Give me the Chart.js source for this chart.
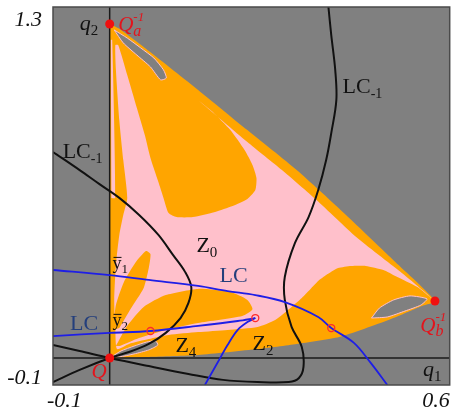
<!DOCTYPE html>
<html>
<head>
<meta charset="utf-8">
<script src="https://cdn.jsdelivr.net/npm/chart.js@4"></script>
<style>
  html, body { margin: 0; padding: 0; background: #fff; }
  #wrap { width: 455px; height: 409px; position: relative; }
</style>
</head>
<body>
<div id="wrap"><canvas id="basin"></canvas></div>
<script>
// axis ranges and tick values
const q1Range = [-0.1, 0.6];
const q2Range = [-0.1, 1.3];
const q1Ticks = [-0.1, 0.6];
const q2Ticks = [-0.1, 1.3];

// outer boundary of the basin (orange)
const basinX = [0, 0.017, 0.069, 0.156, 0.243, 0.330, 0.417, 0.504, 0.574, 0.551, 0.492, 0.405, 0.330, 0.261, 0.156, 0.069, 0];
const basinY = [1.237, 1.219, 1.137, 0.993, 0.844, 0.696, 0.530, 0.356, 0.211, 0.193, 0.141, 0.078, 0.052, 0.033, 0.011, 0.004, 0];

// Z0 zone (pink)
const pinkX = [0.156, 0.243, 0.304, 0.365, 0.435, 0.513, 0.560, 0.569,
  0.543, 0.504, 0.483, 0.452, 0.426, 0.403, 0.382, 0.368, 0.356, 0.339, 0.321, 0.292, 0.261, 0.208, 0.156, 0.104, 0.069, 0.034, 0.013,
  0.010, 0.008, 0.011, 0.017, 0.024, 0.031, 0.024, 0.017, 0.011, 0.010,
  0.015, 0.031, 0.048, 0.062, 0.072, 0.086, 0.095, 0.104,
  0.118, 0.147, 0.186, 0.217, 0.243, 0.257, 0.259, 0.252, 0.238, 0.213, 0.182];
const pinkY = [0.956, 0.800, 0.696, 0.585, 0.448, 0.319, 0.237, 0.219,
  0.263, 0.304, 0.326, 0.341, 0.341, 0.333, 0.307, 0.285, 0.259, 0.222, 0.189, 0.141, 0.115, 0.104, 0.096, 0.085, 0.070, 0.052, 0.033,
  0.104, 0.215, 0.344, 0.456, 0.530, 0.593, 0.733, 0.881, 1.067, 1.159,
  1.159, 1.048, 0.926, 0.826, 0.741, 0.652, 0.593, 0.537,
  0.522, 0.522, 0.541, 0.563, 0.589, 0.622, 0.667, 0.715, 0.770, 0.844, 0.911];
const stripX = [0.002, 0.0045, 0.010, 0.003];
const stripY = [1.178, 1.178, 0.593, 0.593];

// orange tongues inside Z0
const leafX = [0.006, 0.011, 0.025, 0.045, 0.064, 0.072, 0.069, 0.060, 0.038, 0.017];
const leafY = [0.104, 0.196, 0.281, 0.352, 0.396, 0.385, 0.333, 0.259, 0.185, 0.111];
const lobeX = [0.011, 0.031, 0.060, 0.099, 0.156, 0.213, 0.243, 0.252, 0.234, 0.156, 0.099, 0.052, 0.018];
const lobeY = [0.044, 0.119, 0.189, 0.233, 0.256, 0.244, 0.215, 0.181, 0.156, 0.130, 0.104, 0.074, 0.044];

// holes of the divergent set (grey)
const holeQX = [0.003, 0.020, 0.043, 0.065, 0.081, 0.085, 0.069, 0.043, 0.017, 0.003];
const holeQY = [0.004, 0.026, 0.044, 0.059, 0.063, 0.048, 0.030, 0.015, 0.004, 0.004];
const holeAX = [0.008, 0.031, 0.055, 0.078, 0.095, 0.100, 0.090, 0.072, 0.048, 0.024, 0.008];
const holeAY = [1.215, 1.185, 1.148, 1.111, 1.067, 1.037, 1.030, 1.078, 1.122, 1.167, 1.215];
const holeBX = [0.462, 0.476, 0.501, 0.530, 0.560, 0.549, 0.521, 0.490, 0.462];
const holeBY = [0.148, 0.185, 0.215, 0.230, 0.219, 0.196, 0.174, 0.152, 0.148];

// critical curves
const lcm1aX = [-0.100, -0.053, -0.018, 0.017, 0.052, 0.086, 0.112, 0.133, 0.144, 0.139, 0.125, 0.099, 0.069, 0.034, 0, -0.053, -0.100];
const lcm1aY = [0.763, 0.696, 0.644, 0.593, 0.530, 0.456, 0.381, 0.319, 0.263, 0.204, 0.148, 0.093, 0.052, 0.022, 0, -0.044, -0.089];
const lcm1bX = [-0.100, -0.053, 0, 0.069, 0.139, 0.200, 0.261, 0.316, 0.334, 0.342, 0.339, 0.321, 0.309, 0.309, 0.327, 0.351, 0.368, 0.382, 0.391, 0.400, 0.398, 0.391, 0.386];
const lcm1bY = [0.048, 0.026, 0, -0.030, -0.059, -0.081, -0.089, -0.089, -0.074, -0.033, 0.041, 0.115, 0.215, 0.300, 0.426, 0.522, 0.622, 0.733, 0.833, 0.956, 1.067, 1.196, 1.300];
const lcAX = [-0.100, 0, 0.069, 0.156, 0.208, 0.257, 0.309, 0.368, 0.391, 0.431, 0.461, 0.490];
const lcAY = [0.326, 0.307, 0.289, 0.267, 0.248, 0.233, 0.207, 0.152, 0.111, 0.056, -0.019, -0.100];
const lcBX = [-0.100, 0, 0.072, 0.156, 0.226, 0.257];
const lcBY = [0.081, 0.093, 0.100, 0.119, 0.137, 0.148];
const lcCX = [0.257, 0.243, 0.226, 0.208, 0.191, 0.168];
const lcCY = [0.148, 0.133, 0.104, 0.048, -0.015, -0.100];

// fixed points Q, Q_a^-1, Q_b^-1 and the contact points
const fixedX = [0, 0, 0.574];
const fixedY = [0, 1.237, 0.211];
const contactX = [0.072, 0.257, 0.391];
const contactY = [0.100, 0.148, 0.111];

const ORANGE = '#ffa500', PINK = '#ffc0cb', GREY = '#808080';
const RED = '#e3141c', NAVY = '#243f7c';

function pts(xs, ys) {
  return xs.map((x, i) => ({ x: x, y: ys[i] }));
}

function area(label, xs, ys, color, order, rim) {
  return {
    type: 'line', label: label, data: pts(xs, ys), order: order,
    backgroundColor: color, borderColor: rim || 'transparent', borderWidth: rim ? 1 : 0,
    fill: 'shape', pointRadius: 0, tension: 0.2
  };
}

function curve(label, xs, ys, color, width, order) {
  return {
    type: 'line', label: label, data: pts(xs, ys), order: order,
    borderColor: color, borderWidth: width, fill: false, pointRadius: 0, tension: 0.35
  };
}

// text labels (anchor in q1, q2 and parts drawn left to right)
const notes = [
  { at: [-0.053, 1.215], color: '#111', parts: [{ t: 'q', f: 'italic 22px' }, { t: '2', f: '15px', dy: 5 }] },
  { at: [0.015, 1.211], color: RED, parts: [{ t: 'Q', f: 'italic 21px' }, { t: '-1', f: 'italic 13px', dy: -10 }, { t: 'a', f: 'italic 16px', dy: 5, same: true }] },
  { at: [0.411, 0.981], color: '#111', parts: [{ t: 'LC', f: '22px' }, { t: '-1', f: '14px', dy: 5 }] },
  { at: [-0.083, 0.741], color: '#111', parts: [{ t: 'LC', f: '22px' }, { t: '-1', f: '14px', dy: 5 }] },
  { at: [0.153, 0.393], color: '#111', parts: [{ t: 'Z', f: '22px' }, { t: '0', f: '15px', dy: 5 }] },
  { at: [0.194, 0.281], color: NAVY, parts: [{ t: 'LC', f: '22px' }] },
  { at: [-0.070, 0.104], color: NAVY, parts: [{ t: 'LC', f: '22px' }] },
  { at: [0.005, 0.330], color: '#111', parts: [{ t: 'y', f: '18px', bar: true }, { t: '1', f: '13px', dy: 4 }] },
  { at: [0.005, 0.119], color: '#111', parts: [{ t: 'y', f: '18px', bar: true }, { t: '2', f: '13px', dy: 4 }] },
  { at: [0.116, 0.022], color: '#111', parts: [{ t: 'Z', f: '22px' }, { t: '4', f: '15px', dy: 5 }] },
  { at: [0.252, 0.030], color: '#111', parts: [{ t: 'Z', f: '22px' }, { t: '2', f: '15px', dy: 5 }] },
  { at: [0.548, 0.096], color: RED, parts: [{ t: 'Q', f: 'italic 21px' }, { t: '-1', f: 'italic 13px', dy: -11 }, { t: 'b', f: 'italic 16px', dy: 4, same: true }] },
  { at: [-0.032, -0.074], color: RED, parts: [{ t: 'Q', f: 'italic 21px' }] },
  { at: [0.553, -0.067], color: '#111', parts: [{ t: 'q', f: 'italic 22px' }, { t: '1', f: '15px', dy: 5 }] }
];

const SERIF = ' "Liberation Serif", "Times New Roman", serif';

const backdrop = {
  id: 'backdrop',
  beforeDraw(chart) {
    const { ctx, chartArea: a } = chart;
    ctx.save();
    ctx.fillStyle = '#fff';
    ctx.fillRect(0, 0, chart.width, chart.height);
    ctx.fillStyle = GREY;
    ctx.fillRect(a.left, a.top, a.right - a.left, a.bottom - a.top);
    ctx.restore();
  },
  afterDatasetsDraw(chart) {
    const { ctx, chartArea: a, scales } = chart;
    ctx.save();
    ctx.strokeStyle = '#4a4a4a';
    ctx.lineWidth = 1.5;
    ctx.strokeRect(a.left, a.top, a.right - a.left, a.bottom - a.top);

    // tick labels
    ctx.fillStyle = '#111';
    ctx.font = 'italic 22px' + SERIF;
    ctx.textAlign = 'right';
    q2Ticks.forEach(v => {
      const py = scales.y.getPixelForValue(v);
      ctx.fillText(String(v), a.left - 11, v === q2Range[1] ? py + 19 : py - 1);
    });
    q1Ticks.forEach(v => {
      const px = scales.x.getPixelForValue(v);
      ctx.textAlign = v === q1Range[0] ? 'left' : 'right';
      ctx.fillText(String(v), v === q1Range[0] ? px - 6 : px, a.bottom + 22);
    });

    // annotations
    ctx.textAlign = 'left';
    notes.forEach(n => {
      let x = scales.x.getPixelForValue(n.at[0]);
      const y = scales.y.getPixelForValue(n.at[1]);
      let prev = x;
      ctx.fillStyle = n.color;
      ctx.strokeStyle = n.color;
      n.parts.forEach(p => {
        ctx.font = p.f + SERIF;
        const start = p.same ? prev : x;
        const w = ctx.measureText(p.t).width;
        ctx.fillText(p.t, start, y + (p.dy || 0));
        if (p.bar) {
          ctx.lineWidth = 1;
          ctx.beginPath();
          ctx.moveTo(start + 1, y - 11.5);
          ctx.lineTo(start + w, y - 11.5);
          ctx.stroke();
        }
        prev = start;
        x = Math.max(x, start + w);
      });
    });
    ctx.restore();
  }
};

new Chart(document.getElementById('basin'), {
  type: 'line',
  data: {
    datasets: [
      area('basin', basinX, basinY, ORANGE, 20),
      area('Z0', pinkX, pinkY, PINK, 19),
      area('strip', stripX, stripY, PINK, 18),
      area('leaf', leafX, leafY, ORANGE, 17),
      area('lobe', lobeX, lobeY, ORANGE, 16),
      area('hole Q', holeQX, holeQY, GREY, 15, PINK),
      area('hole a', holeAX, holeAY, GREY, 15, PINK),
      area('hole b', holeBX, holeBY, GREY, 15, PINK),
      {
        type: 'line', label: 'q1 axis', order: 10, data: pts(q1Range, [0, 0]),
        borderColor: '#1a1a1a', borderWidth: 1.5, pointRadius: 0, fill: false
      },
      {
        type: 'line', label: 'q2 axis', order: 10, data: pts([0, 0], q2Range),
        borderColor: '#1a1a1a', borderWidth: 1.5, pointRadius: 0, fill: false
      },
      curve('LC-1', lcm1aX, lcm1aY, '#111', 2, 6),
      curve('LC-1 b', lcm1bX, lcm1bY, '#111', 2, 6),
      curve('LC', lcAX, lcAY, '#1e1ee6', 1.8, 5),
      curve('LC b', lcBX, lcBY, '#1e1ee6', 1.8, 5),
      curve('LC c', lcCX, lcCY, '#1e1ee6', 1.8, 5),
      {
        type: 'line', label: 'contact', order: 2, data: pts(contactX, contactY), showLine: false,
        pointRadius: 3.5, pointBackgroundColor: 'transparent', pointBorderColor: '#ff2a2a', pointBorderWidth: 1.3
      },
      {
        type: 'line', label: 'fixed', order: 1, data: pts(fixedX, fixedY), showLine: false,
        pointRadius: 4.5, pointBackgroundColor: '#f01010', pointBorderColor: '#f01010', pointBorderWidth: 0
      }
    ]
  },
  options: {
    responsive: true,
    maintainAspectRatio: false,
    animation: false,
    events: [],
    layout: { padding: { left: 53, top: 7, right: 0, bottom: 24 } },
    plugins: { legend: { display: false }, tooltip: { enabled: false } },
    scales: {
      x: { type: 'linear', min: q1Range[0], max: q1Range[1], display: false },
      y: { type: 'linear', min: q2Range[0], max: q2Range[1], display: false }
    }
  },
  plugins: [backdrop]
});
</script>
</body>
</html>
